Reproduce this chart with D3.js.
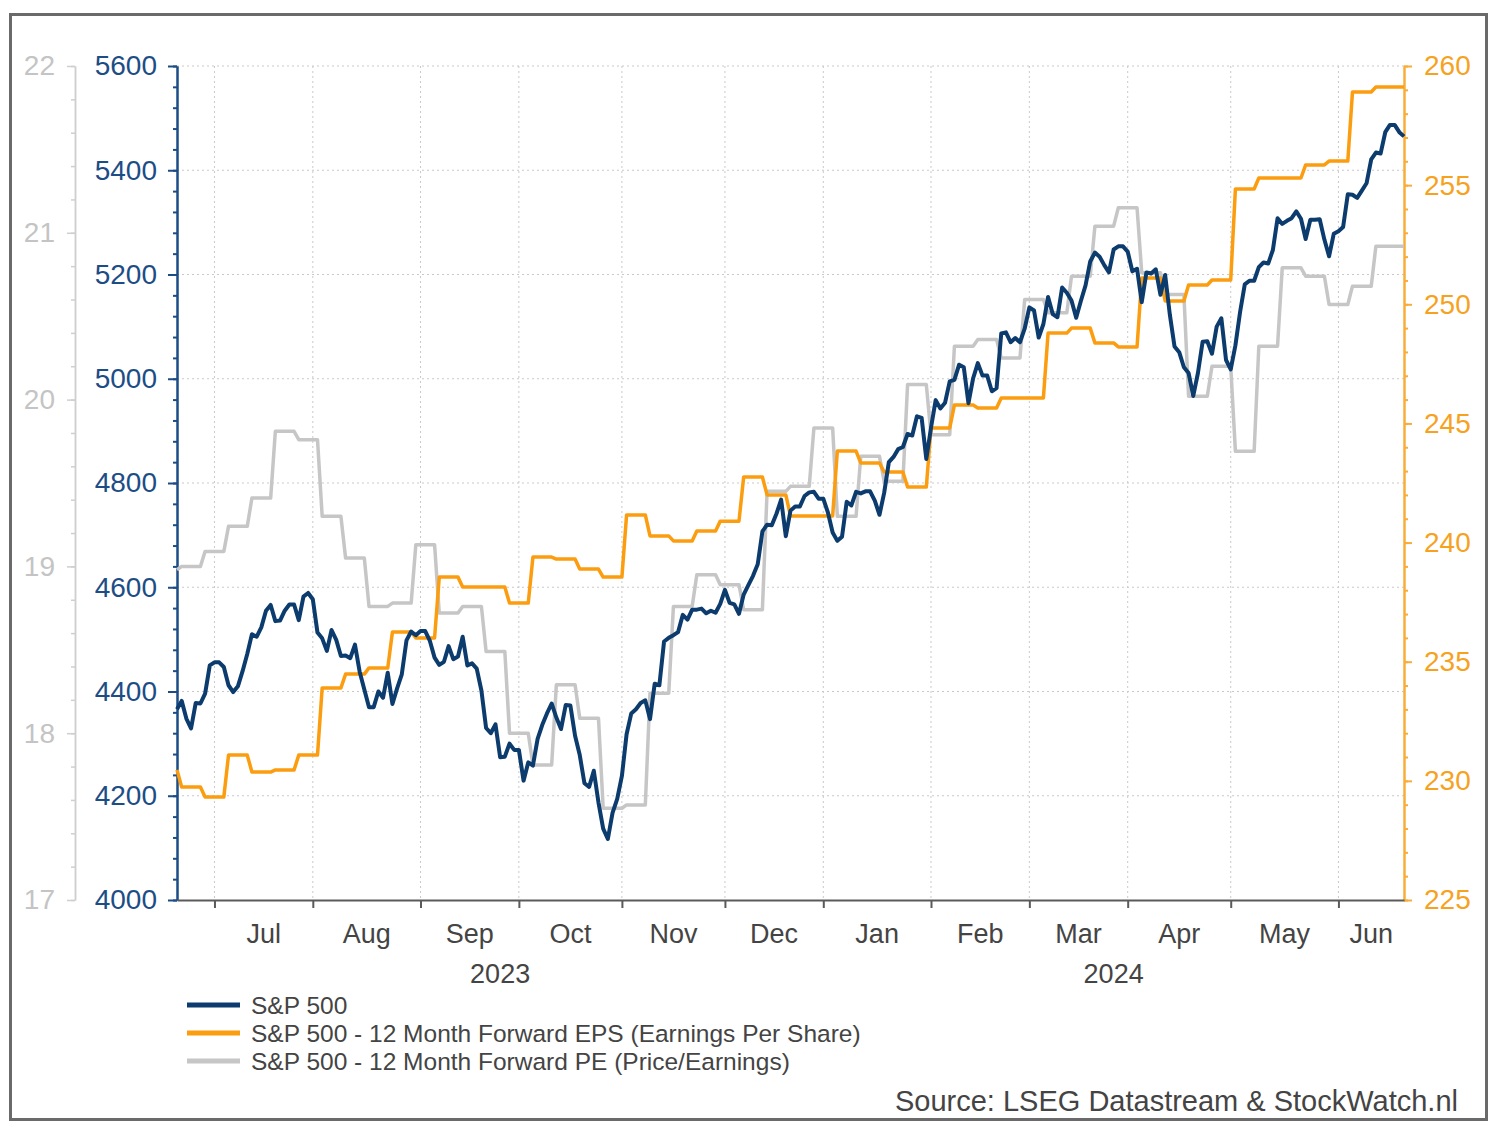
<!DOCTYPE html>
<html>
<head>
<meta charset="utf-8">
<script src="https://cdn.jsdelivr.net/npm/d3@7"></script>
<style>
  body { margin: 0; background: #fff; }
  svg { display: block; font-family: "Liberation Sans", Arial, sans-serif; }
</style>
</head>
<body>
<svg id="chart" width="1500" height="1135"></svg>
<script>
// first weekday shown; every series below runs on weekdays (Datastream style)
const startDate = new Date(2023, 5, 21);

// S&P 500, one value per weekday (holidays repeat the previous close)
const sp500 = [
  // Jun 2023
  4366, 4382, 4348, 4329, 4378, 4377, 4396, 4450,
  // Jul
  4456, 4456, 4447, 4412, 4399, 4410, 4439, 4472, 4510, 4505, 4523, 4555, 4566, 4535, 4536, 4555, 4567, 4567, 4537, 4582, 4589,
  // Aug
  4577, 4513, 4502, 4478, 4518, 4499, 4468, 4469, 4464, 4490, 4438, 4404, 4370, 4370, 4400, 4388, 4436, 4376, 4406, 4433, 4498, 4515, 4508,
  // Sep
  4516, 4516, 4497, 4465, 4451, 4457, 4487, 4462, 4467, 4505, 4450, 4454, 4444, 4402, 4330, 4320, 4337, 4274, 4275, 4300, 4288,
  // Oct
  4288, 4229, 4264, 4258, 4309, 4336, 4358, 4377, 4350, 4328, 4374, 4373, 4315, 4278, 4224, 4217, 4248, 4187, 4137, 4117, 4167, 4194,
  // Nov
  4238, 4318, 4358, 4366, 4378, 4383, 4347, 4415, 4412, 4496, 4503, 4508, 4514, 4547, 4538, 4557, 4557, 4559, 4550, 4555, 4551, 4568,
  // Dec
  4595, 4570, 4567, 4549, 4586, 4604, 4622, 4644, 4707, 4720, 4719, 4741, 4768, 4698, 4747, 4755, 4755, 4775, 4782, 4783, 4770,
  // Jan 2024
  4770, 4743, 4705, 4689, 4697, 4764, 4757, 4783, 4780, 4784, 4784, 4766, 4739, 4781, 4840, 4850, 4865, 4869, 4894, 4891, 4928, 4925, 4846,
  // Feb
  4906, 4959, 4943, 4954, 4995, 4998, 5027, 5022, 4953, 5001, 5030, 5006, 5006, 4976, 4982, 5087, 5089, 5070, 5078, 5070, 5096,
  // Mar
  5137, 5131, 5079, 5105, 5157, 5124, 5118, 5175, 5165, 5150, 5117, 5149, 5179, 5225, 5242, 5234, 5218, 5204, 5248, 5254, 5254,
  // Apr
  5244, 5206, 5211, 5147, 5204, 5202, 5210, 5161, 5199, 5123, 5062, 5051, 5022, 5011, 4967, 5011, 5071, 5072, 5048, 5100, 5116, 5036,
  // May
  5018, 5064, 5128, 5181, 5188, 5188, 5214, 5223, 5221, 5247, 5308, 5297, 5303, 5308, 5321, 5307, 5268, 5305, 5305, 5306, 5267, 5235, 5278,
  // Jun
  5283, 5291, 5354, 5353, 5347, 5361, 5375, 5421, 5434, 5432, 5473, 5487, 5487, 5473, 5465
];

// weekly 12m forward EPS, new value every Thursday (first one = start day only)
const epsWeekly = [
  230.46, 229.74, 229.32, 231.08, 230.37, 230.46, 231.08, 233.90, 234.48, 234.74,
  236.25, 236.00, 238.55, 238.14, 238.14, 237.46, 239.39, 239.31, 238.89, 238.55,
  241.16, 240.28, 240.07, 240.49, 240.90, 242.75, 242.00, 241.12, 241.12, 243.84,
  243.34, 242.96, 242.33, 244.81, 245.77, 245.65, 246.07, 246.07, 248.79, 249.00,
  248.38, 248.21, 251.10, 250.14, 250.81, 251.02, 254.84, 255.30, 255.30, 255.85,
  256.01, 258.91, 259.12, 259.12
];

// weekly 12m forward PE, same update days
const peWeekly = [
  18.98, 19.00, 19.09, 19.24, 19.41, 19.81, 19.76, 19.30, 19.05, 18.76,
  18.78, 19.13, 18.72, 18.76, 18.49, 18.00, 17.81, 18.29, 18.09, 17.55,
  17.57, 18.24, 18.76, 18.95, 18.89, 18.74, 19.45, 19.48, 19.83, 19.30,
  19.66, 19.51, 20.09, 19.79, 20.32, 20.36, 20.25, 20.60, 20.52, 20.74,
  21.04, 21.15, 20.76, 20.63, 20.02, 20.20, 19.69, 20.32, 20.79, 20.74,
  20.57, 20.68, 20.92, 20.92
];

const legendLabels = [
  "S&P 500",
  "S&P 500 - 12 Month Forward EPS (Earnings Per Share)",
  "S&P 500 - 12 Month Forward PE (Price/Earnings)"
];
const sourceText = "Source: LSEG Datastream & StockWatch.nl";

const blue = "#0c3b6e", orange = "#fb9d0f", gray = "#c6c6c6";

const L = 177, R = 1404, T = 66, B = 900;
const svg = d3.select("#chart");

// weekday calendar
const days = [];
for (let d = new Date(startDate); days.length < sp500.length; d = d3.timeDay.offset(d, 1)) {
  if (d.getDay() !== 0 && d.getDay() !== 6) days.push(new Date(d));
}
const weekOf = i => Math.floor((i + 4) / 5);

const x = d3.scaleLinear().domain([0, days.length - 1]).range([L, R]);
const ySP = d3.scaleLinear().domain([4000, 5600]).range([B, T]);
const yPE = d3.scaleLinear().domain([17, 22]).range([B, T]);
const yEPS = d3.scaleLinear().domain([225, 260]).range([B, T]);

const monthStarts = d3.range(1, days.length).filter(i => days[i].getMonth() !== days[i - 1].getMonth());
const yearStarts = monthStarts.filter(i => days[i].getMonth() === 0);

// outer frame
svg.append("rect")
  .attr("x", 10.5).attr("y", 14.5).attr("width", 1476).attr("height", 1105)
  .attr("fill", "none").attr("stroke", "#6a6a6a").attr("stroke-width", 3);

// grid
const grid = svg.append("g").attr("stroke", "#c9c9c9").attr("stroke-width", 1).attr("stroke-dasharray", "2,3");
grid.selectAll(".h").data(d3.range(4200, 5601, 200)).enter().append("line")
  .attr("x1", L).attr("x2", R).attr("y1", d => ySP(d)).attr("y2", d => ySP(d));
grid.selectAll(".v").data(monthStarts).enter().append("line")
  .attr("x1", d => x(d)).attr("x2", d => x(d)).attr("y1", T).attr("y2", B);

function styleAxis(g, color, width, font, textColor) {
  g.select(".domain").attr("stroke", color).attr("stroke-width", width);
  g.selectAll(".tick line").attr("stroke", color).attr("stroke-width", width);
  g.selectAll("text").attr("fill", textColor).style("font-size", font + "px").style("font-family", "Liberation Sans, Arial, sans-serif");
}

// PE axis (outer left)
const gPEm = svg.append("g").attr("transform", "translate(75,0)")
  .call(d3.axisLeft(yPE).tickValues(d3.range(17, 22.01, 0.2)).tickSize(4).tickSizeOuter(0).tickFormat(""));
styleAxis(gPEm, "#cfcfcf", 1.5, 28, "#c4c4c4");
const gPE = svg.append("g").attr("transform", "translate(75,0)")
  .call(d3.axisLeft(yPE).tickValues(d3.range(17, 23, 1)).tickSize(8).tickSizeOuter(0).tickPadding(12).tickFormat(d3.format("d")));
styleAxis(gPE, "#cfcfcf", 1.5, 28, "#c4c4c4");

// S&P axis (inner left)
const gSPm = svg.append("g").attr("transform", `translate(${L},0)`)
  .call(d3.axisLeft(ySP).tickValues(d3.range(4000, 5601, 40)).tickSize(4).tickSizeOuter(0).tickFormat(""));
styleAxis(gSPm, "#1d4d85", 2, 28, "#1d4d85");
const gSP = svg.append("g").attr("transform", `translate(${L},0)`)
  .call(d3.axisLeft(ySP).tickValues(d3.range(4000, 5601, 200)).tickSize(9).tickSizeOuter(0).tickPadding(11).tickFormat(d3.format("d")));
styleAxis(gSP, "#1d4d85", 2, 28, "#1d4d85");

// EPS axis (right)
const gEPSm = svg.append("g").attr("transform", `translate(${R},0)`)
  .call(d3.axisRight(yEPS).tickValues(d3.range(225, 261, 1)).tickSize(4).tickSizeOuter(0).tickFormat(""));
styleAxis(gEPSm, "#f8ad3a", 2, 28, "#f7a21e");
const gEPS = svg.append("g").attr("transform", `translate(${R},0)`)
  .call(d3.axisRight(yEPS).tickValues(d3.range(225, 261, 5)).tickSize(8).tickSizeOuter(0).tickPadding(12).tickFormat(d3.format("d")));
styleAxis(gEPS, "#f8ad3a", 2, 28, "#f7a21e");

// time axis
const gX = svg.append("g").attr("transform", `translate(0,${B})`)
  .call(d3.axisBottom(x).tickValues(monthStarts).tickSize(8).tickSizeOuter(0).tickFormat(""));
styleAxis(gX, "#5a5a5a", 2, 28, "#444");

const monthSpans = monthStarts.map((m, j) => [m, j < monthStarts.length - 1 ? monthStarts[j + 1] : days.length - 1]);
svg.append("g").selectAll("text").data(monthSpans).enter().append("text")
  .attr("x", d => (x(d[0]) + x(d[1])) / 2).attr("y", 943)
  .attr("text-anchor", "middle").attr("fill", "#444").style("font-size", "27px")
  .text(d => d3.timeFormat("%b")(days[d[0]]));

const yearSpans = [[0, yearStarts[0]], [yearStarts[0], days.length - 1]];
svg.append("g").selectAll("text").data(yearSpans).enter().append("text")
  .attr("x", d => (x(d[0]) + x(d[1])) / 2).attr("y", 983)
  .attr("text-anchor", "middle").attr("fill", "#444").style("font-size", "27px")
  .text(d => d3.timeFormat("%Y")(days[d[0]]));

// series
const idx = d3.range(days.length);
const line = yFn => d3.line().x(i => x(i)).y(yFn);

svg.append("path").datum(idx)
  .attr("fill", "none").attr("stroke", gray).attr("stroke-width", 3.5).attr("stroke-linejoin", "round")
  .attr("d", line(i => yPE(peWeekly[weekOf(i)])));
svg.append("path").datum(idx)
  .attr("fill", "none").attr("stroke", orange).attr("stroke-width", 3.5).attr("stroke-linejoin", "round")
  .attr("d", line(i => yEPS(epsWeekly[weekOf(i)])));
svg.append("path").datum(idx)
  .attr("fill", "none").attr("stroke", blue).attr("stroke-width", 4).attr("stroke-linejoin", "round")
  .attr("d", line(i => ySP(sp500[i])));

// legend
const lg = svg.append("g").selectAll("g").data(legendLabels).enter().append("g")
  .attr("transform", (d, i) => `translate(0,${1005 + i * 28})`);
lg.append("line").attr("x1", 187).attr("x2", 240).attr("y1", 0).attr("y2", 0)
  .attr("stroke", (d, i) => [blue, orange, gray][i]).attr("stroke-width", 5);
lg.append("text").attr("x", 251).attr("y", 0).attr("dy", "0.35em")
  .attr("fill", "#444").style("font-size", "24.5px").text(d => d);

svg.append("text").attr("x", 1458).attr("y", 1101).attr("dy", "0.35em")
  .attr("text-anchor", "end").attr("fill", "#444").style("font-size", "29px").text(sourceText);
</script>
</body>
</html>
